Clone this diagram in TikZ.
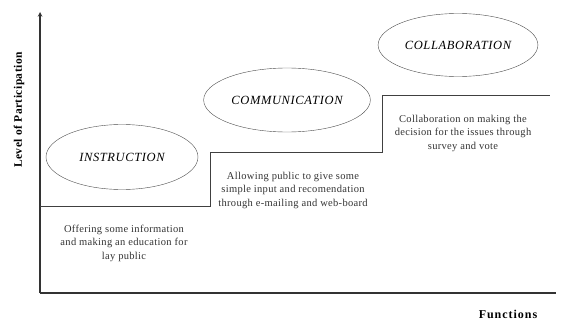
\documentclass[tikz,border=0pt]{standalone}
\usepackage{fontspec}
\setmainfont{Liberation Serif}
\usetikzlibrary{shapes}
\usetikzlibrary{shapes.geometric}
\usetikzlibrary{positioning}

\begin{document}
\begin{tikzpicture}[x=1pt, y=-1pt]
        \useasboundingbox (0,0) rectangle (561,321);
        \coordinate (o) at (40,293);
        \coordinate (ytop) at (40,12);
        \coordinate (xend) at (556,293);
        \draw[->, line width=1.1pt, black!80, >=stealth] (o) -- (ytop);
        \draw[line width=1.1pt, black!80] (o) -- (xend);
        \draw[black!75, line width=0.9pt] (40,206) -- (210,206) -- (210,152) -- (382,152) -- (382,95) -- (550,95);
        \node[ellipse, draw, black!70, text=black, minimum width=152, minimum height=65, font=\itshape\fontsize{12.5}{14}\selectfont\addfontfeatures{LetterSpace=5}] at (122,157) (instr) {INSTRUCTION};
        \node[ellipse, draw, black!70, text=black, minimum width=158, minimum height=64, font=\itshape\fontsize{12.5}{14}\selectfont\addfontfeatures{LetterSpace=5}] at (287,100) (comm) {COMMUNICATION};
        \node[ellipse, draw, black!70, text=black, minimum width=157, minimum height=63, font=\itshape\fontsize{12.5}{14}\selectfont\addfontfeatures{LetterSpace=5}] at (458,45) (collab) {COLLABORATION};
        \node[align=center, text=black!80, font=\fontsize{10.5}{13.5}\selectfont\addfontfeatures{LetterSpace=3}] at (124,243) (offer) {Offering some information\\and making an education for\\lay public};
        \node[align=center, text=black!80, font=\fontsize{10.5}{13.5}\selectfont\addfontfeatures{LetterSpace=3}] at (293,190) (allow) {Allowing public to give some\\simple input and recomendation\\through e-mailing and web-board};
        \node[align=center, text=black!80, font=\fontsize{10.5}{13.5}\selectfont\addfontfeatures{LetterSpace=3}] at (463,133) (decide) {Collaboration on making the\\decision for the issues through\\survey and vote};
        \node[rotate=90, font=\bfseries\fontsize{11.5}{13}\selectfont\addfontfeatures{LetterSpace=4}] at (19,110) (level) {Level of Participation};
        \node[font=\bfseries\fontsize{12}{13}\selectfont\addfontfeatures{LetterSpace=8}] at (508,314) (func) {Functions};
      \end{tikzpicture}
\end{document}
